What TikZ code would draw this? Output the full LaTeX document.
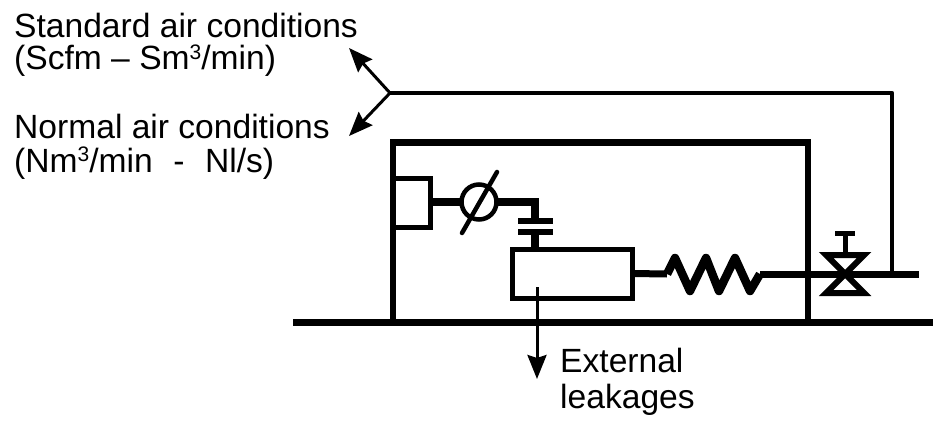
\documentclass[tikz,border=0pt]{standalone}
\usepackage{fontspec}
\setmainfont{Liberation Sans}
\usetikzlibrary{arrows.meta}
\tikzset{
  label/.style={anchor=base west,inner sep=0pt,font=\fontsize{33.6}{40}\selectfont},
  pipe/.style={draw=black,line width=7pt,line join=miter},
  arrow/.style={draw=black,line width=3pt,-{Stealth[length=24pt,width=19pt,inset=3pt]}},
}
\newcommand{\thr}{\raisebox{10pt}{\fontsize{21}{21}\selectfont 3}}
\begin{document}
\begin{tikzpicture}[x=1pt,y=-1pt]
\useasboundingbox (0,0) rectangle (933,422);
% texts
\node[label] (std1) at (14,38) {Standard air conditions};
\node[label] (std2) at (14,70) {(Scfm -- Sm\thr/min)};
\node[label] (nor1) at (14,139) {Normal air conditions};
\node[label] (nor2) at (14,172) {(Nm\thr/min \,\,-\,\, Nl/s)};
\node[label] (ext1) at (560,372) {External};
\node[label] (ext2) at (560,408) {leakages};
% coordinates
\coordinate (fork) at (390,93);
\coordinate (stdtip) at (349,48);
\coordinate (nortip) at (349,136);
\coordinate (corner) at (892,93);
\coordinate (tap) at (892,274);
\coordinate (busL) at (293,322);
\coordinate (busR) at (933,322);
\coordinate (frameBL) at (393,322);
\coordinate (frameTL) at (393,143);
\coordinate (frameTR) at (808,143);
\coordinate (frameBR) at (808,322);
\coordinate (pipeEnd) at (919,274);
\coordinate (leakStart) at (537,287);
\coordinate (leakTip) at (537,379);
% bus and frame
\draw[draw=black,line width=7pt] (busL) -- (busR);
\draw[draw=black,line width=5.5pt] (frameBL) -- (frameTL);
\draw[draw=black,line width=7pt] (390.25,143) -- (810.75,143);
\draw[draw=black,line width=5.5pt] (frameTR) -- (frameBR);
% signal line
\draw[draw=black,line width=4.5pt,line join=round] (tap) -- (corner) -- (fork);
\draw[arrow] (fork) -- (stdtip);
\draw[arrow] (fork) -- (nortip);
% small box on frame
\node[minimum width=37pt,minimum height=49pt,inner sep=0pt,outer sep=0pt] (sensor) at (411.5,202) {};
\draw[draw=black,line width=5pt] (393,178) -- (430,178) -- (430,227) -- (393,227);
% gauge
\node[circle,draw=black,line width=4.5pt,minimum size=35pt,inner sep=0pt,outer sep=0pt] (gauge) at (479,202) {};
\coordinate (slashA) at (497,172);
\coordinate (slashB) at (462,233);
\draw[draw=black,line width=4.5pt,line cap=round] (slashA) -- (slashB);
\draw[pipe,line width=8pt] (sensor.east) -- (gauge.west);
% capacitor
\coordinate (plate1L) at (518,221);
\coordinate (plate1R) at (553,221);
\coordinate (plate2L) at (518,232);
\coordinate (plate2R) at (553,232);
\draw[pipe,line width=8pt] (gauge.east) -- (535,202) -- (535,221);
\draw[draw=black,line width=6pt] (plate1L) -- (plate1R);
\draw[draw=black,line width=6pt] (plate2L) -- (plate2R);
% chamber
\node[draw=black,line width=5pt,minimum width=120pt,minimum height=49pt,inner sep=0pt,outer sep=0pt] (chamber) at (572,273.5) {};
\draw[pipe,line width=8pt] (535,232) -- (535,249);
% spring and outlet
\draw[pipe,line join=round] (chamber.east) -- (667,274);
\draw[pipe,line width=8.5pt,line join=round] (667,274) -- (675,258) -- (690,291) -- (706,258) -- (719,291) -- (735,258) -- (750,291) -- (760,274);
\draw[pipe] (760,274) -- (pipeEnd);
% valve
\coordinate (vTL) at (826,255);
\coordinate (vTR) at (864,255);
\coordinate (vBL) at (826,293);
\coordinate (vBR) at (864,293);
\draw[draw=black,line width=6pt,line join=miter] (vTL) -- (vTR) -- (vBL) -- (vBR) -- cycle;
\coordinate (stemTop) at (845,233);
\draw[draw=black,line width=5pt] (stemTop) -- (845,254);
\draw[draw=black,line width=5pt] (835,233) -- (855,233);
% leakage arrow
\draw[arrow] (leakStart) -- (leakTip);
\end{tikzpicture}
\end{document}
